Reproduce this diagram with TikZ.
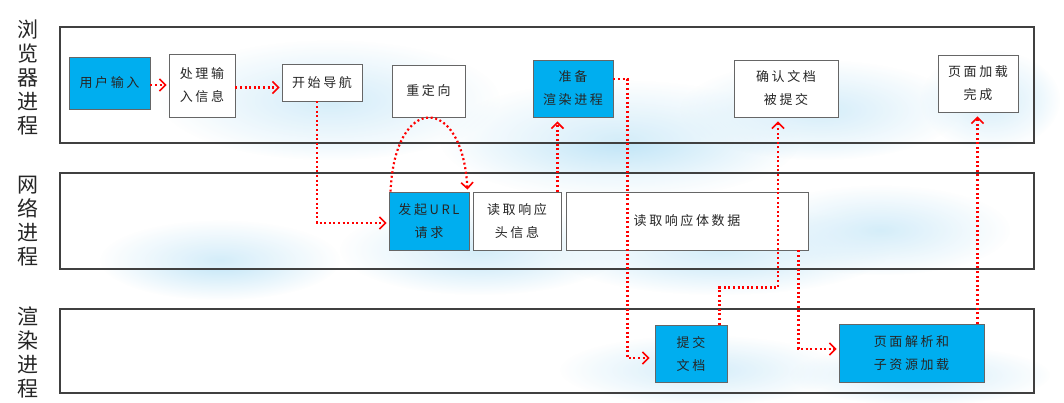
\documentclass[tikz,border=0pt]{standalone}
\usepackage{fontspec}
\usetikzlibrary{arrows.meta,fadings,calc}
\newfontfamily\cjk[LetterSpace=20]{Noto Sans CJK SC}
\newfontfamily\cjklab{Noto Sans CJK SC}
\definecolor{boxblue}{RGB}{0,174,239}
\definecolor{glow}{RGB}{190,228,247}
\tikzfading[name=glowfade, inner color=transparent!0, outer color=transparent!100]
\begin{document}
\begin{tikzpicture}[x=1pt,y=-1pt,
  lane/.style={draw=black!75,line width=1.1pt},
  lanelabel/.style={font=\cjklab\fontsize{21}{24}\selectfont,align=center,inner sep=0pt,text=black!85},
  box/.style={draw=black!60,line width=0.9pt,fill=white,align=center,inner sep=0pt,
    font=\cjk\fontsize{13}{23}\selectfont,text=black!85},
  bluebox/.style={box,fill=boxblue},
  flow/.style={draw=red,line width=2.2pt,dash pattern=on 2pt off 2.6pt,
    -{Straight Barb[length=6pt,width=12pt,line width=1.6pt]}}]
\useasboundingbox (0,0) rectangle (1064,403);
\fill[white] (0,0) rectangle (1064,403);
% soft background glow
\foreach \cx/\cy/\rx/\ry in {330/100/170/60, 620/140/180/60, 820/110/140/50, 990/100/70/50,
  480/250/140/45, 720/250/170/45, 880/230/130/45, 700/370/140/35, 920/375/130/30, 220/260/120/40}
  \fill[glow,path fading=glowfade] (\cx,\cy) ellipse [x radius=\rx,y radius=\ry];
% lanes
\draw[lane,fill=white,fill opacity=0.35] (60,27) rectangle (1034,143);
\draw[lane,fill=white,fill opacity=0.35] (60,173) rectangle (1034,269);
\draw[lane,fill=white,fill opacity=0.35] (60,309) rectangle (1034,393);
\node[lanelabel] (lb1) at (28,77) {浏\\览\\器\\进\\程};
\node[lanelabel] (lb2) at (28,221) {网\\络\\进\\程};
\node[lanelabel] (lb3) at (28,352) {渲\\染\\进\\程};
% browser boxes
\node[bluebox,minimum width=81pt,minimum height=52pt] (user) at (109.5,83) {用户输入};
\node[box,minimum width=66pt,minimum height=63pt] (proc) at (202,85.5) {处理输\\入信息};
\node[box,minimum width=80pt,minimum height=37pt] (nav) at (322,82.5) {开始导航};
\node[box,minimum width=73pt,minimum height=52pt] (redir) at (428.5,91) {重定向};
\node[bluebox,minimum width=80pt,minimum height=57pt] (prep) at (573,88.5) {准备\\渲染进程};
\node[box,minimum width=104pt,minimum height=57pt] (confirm) at (786,88.5) {确认文档\\被提交};
\node[box,minimum width=80pt,minimum height=57pt] (done) at (978,83.5) {页面加载\\完成};
% network boxes
\node[bluebox,minimum width=80pt,minimum height=58pt] (url) at (429,221) {发起URL\\请求};
\node[box,minimum width=88pt,minimum height=58pt] (head) at (517,221) {读取响应\\头信息};
\node[box,minimum width=242pt,minimum height=58pt] (body) at (687,221) {读取响应体数据};
% render boxes
\node[bluebox,minimum width=72pt,minimum height=57pt] (commit) at (691,353.5) {提交\\文档};
\node[bluebox,minimum width=145pt,minimum height=58pt] (parse) at (911.5,353) {页面解析和\\子资源加载};
% connectors
\draw[flow] ([yshift=-2pt]user.east) -- ([xshift=-2pt,yshift=-2pt]user.east -| proc.west);
\draw[flow] ([yshift=-2pt]proc.east) -- ([xshift=-2pt,yshift=-2pt]proc.east -| nav.west);
\draw[flow] ([xshift=-5pt]nav.south) |- ([xshift=-2pt,yshift=-2pt]url.west);
\draw[flow] ([xshift=2pt]url.north west) .. controls ([xshift=6pt,yshift=98pt]url.north west) and ([xshift=-7pt,yshift=98pt]url.north east) .. ([xshift=-2pt,yshift=2pt]url.north east);
\draw[flow] ([xshift=-4pt]head.north east) -- ([xshift=-4pt,yshift=-4pt]head.north east |- prep.south);
\draw[flow] ([yshift=9.5pt]prep.east) -- ++(14,0) |- ([xshift=-5pt,yshift=-4.5pt]commit.west);
\draw[flow] ([xshift=-8pt]commit.north east) -- ++(0,-37) -| ([xshift=-8pt,yshift=-4pt]confirm.south);
\draw[flow] ([xshift=-10pt]body.south east) |- ([xshift=-2pt,yshift=4pt]parse.west);
\draw[flow] ([xshift=-7pt]parse.north east) -- ([xshift=-7pt,yshift=-4pt]parse.north east |- done.south);
\end{tikzpicture}
\end{document}
